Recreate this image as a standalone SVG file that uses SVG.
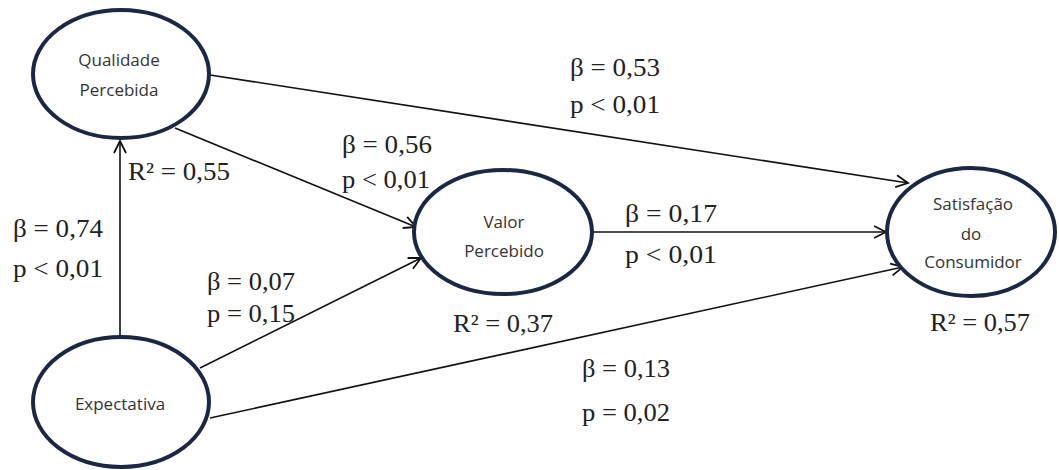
<svg xmlns="http://www.w3.org/2000/svg" width="1059" height="470" viewBox="0 0 1059 470">
<style>
.node ellipse{fill:#fff;stroke:#1b2845;stroke-width:4}
.node text{font-family:"Open Sans","Liberation Sans",sans-serif;font-size:17px;fill:#333;text-anchor:middle}
.lbl{font-family:"Liberation Serif","Times New Roman",serif;font-size:25px;fill:#222}
#connectors line{stroke:#111;stroke-width:1.6;marker-end:url(#arr)}
</style>
<defs>
<marker id="arr" markerUnits="userSpaceOnUse" markerWidth="16" markerHeight="16" viewBox="0 0 16 16" refX="14" refY="8" orient="auto">
<path d="M2,2 L14,8 L2,14" fill="none" stroke="#111" stroke-width="1.8"/>
</marker>
</defs>
<rect width="1059" height="470" fill="#fff"/>
<g id="connectors">
<line x1="210" y1="75" x2="908" y2="183"/>
<line x1="175" y1="128" x2="416" y2="227"/>
<line x1="120" y1="337" x2="120" y2="141"/>
<line x1="200" y1="368" x2="421" y2="258"/>
<line x1="593" y1="232" x2="886" y2="232"/>
<line x1="210" y1="418" x2="903" y2="267"/>
</g>
<g id="qualidade" class="node">
<ellipse cx="121" cy="74" rx="88" ry="64"/>
<text x="119" y="66">Qualidade</text>
<text x="119" y="96">Percebida</text>
</g>
<g id="expectativa" class="node">
<ellipse cx="121" cy="402" rx="88" ry="65"/>
<text x="120" y="410">Expectativa</text>
</g>
<g id="valor" class="node">
<ellipse cx="503" cy="232" rx="89" ry="62"/>
<text x="504" y="228">Valor</text>
<text x="504" y="257">Percebido</text>
</g>
<g id="satisfacao" class="node">
<ellipse cx="971" cy="232" rx="84" ry="64"/>
<text x="973" y="210">Satisfação</text>
<text x="971" y="240">do</text>
<text x="973" y="268">Consumidor</text>
</g>
<g id="labels">
<text class="lbl" x="570" y="76" textLength="90" lengthAdjust="spacingAndGlyphs">β = 0,53</text>
<text class="lbl" x="570" y="113" textLength="90" lengthAdjust="spacingAndGlyphs">p &lt; 0,01</text>
<text class="lbl" x="342" y="153" textLength="90" lengthAdjust="spacingAndGlyphs">β = 0,56</text>
<text class="lbl" x="342" y="188" textLength="88" lengthAdjust="spacingAndGlyphs">p &lt; 0,01</text>
<text class="lbl" x="128" y="180" textLength="102" lengthAdjust="spacingAndGlyphs">R² = 0,55</text>
<text class="lbl" x="13" y="237" textLength="90" lengthAdjust="spacingAndGlyphs">β = 0,74</text>
<text class="lbl" x="13" y="277" textLength="90" lengthAdjust="spacingAndGlyphs">p &lt; 0,01</text>
<text class="lbl" x="207" y="290" textLength="88" lengthAdjust="spacingAndGlyphs">β = 0,07</text>
<text class="lbl" x="207" y="322" textLength="88" lengthAdjust="spacingAndGlyphs">p = 0,15</text>
<text class="lbl" x="453" y="332" textLength="100" lengthAdjust="spacingAndGlyphs">R² = 0,37</text>
<text class="lbl" x="625" y="222" textLength="92" lengthAdjust="spacingAndGlyphs">β = 0,17</text>
<text class="lbl" x="625" y="263" textLength="92" lengthAdjust="spacingAndGlyphs">p &lt; 0,01</text>
<text class="lbl" x="930" y="331" textLength="100" lengthAdjust="spacingAndGlyphs">R² = 0,57</text>
<text class="lbl" x="582" y="377" textLength="88" lengthAdjust="spacingAndGlyphs">β = 0,13</text>
<text class="lbl" x="582" y="421" textLength="88" lengthAdjust="spacingAndGlyphs">p = 0,02</text>
</g>
</svg>
